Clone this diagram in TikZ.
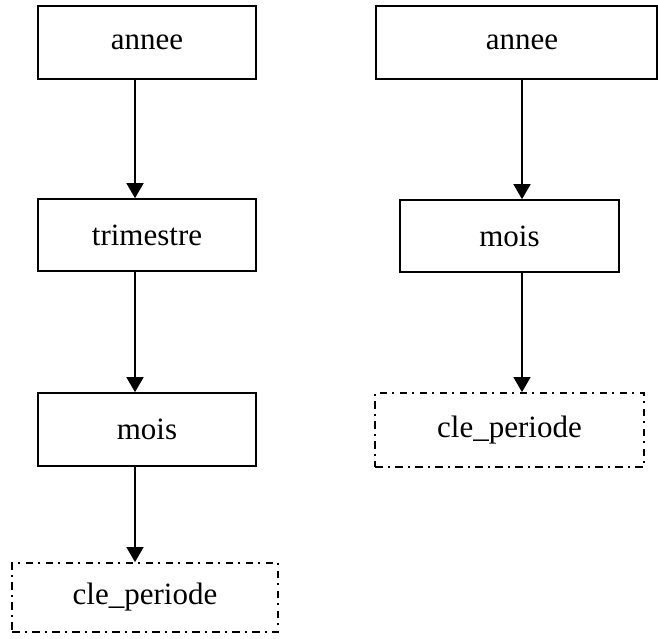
\documentclass[tikz,border=0pt]{standalone}
\usepackage{fontspec}
\setmainfont{Liberation Serif}
\usetikzlibrary{arrows.meta}
\begin{document}
\begin{tikzpicture}[x=1pt,y=-1pt,
  level/.style={draw, line width=1.7pt, inner sep=0pt, font=\fontsize{31}{36}\selectfont},
  keybox/.style={level, line width=1.9pt, dash pattern=on 7.5pt off 5.25pt on 2pt off 5.25pt},
  link/.style={line width=1.7pt, -{Triangle[width=17pt,length=15pt]}}]
  \useasboundingbox (0,0) rectangle (658,638);

  % left hierarchy: annee > trimestre > mois > cle_periode
  \node[level, minimum width=218pt, minimum height=73pt] (la) at (147,42.5) {annee};
  \node[level, minimum width=218pt, minimum height=72pt] (lt) at (147,235) {trimestre};
  \node[level, minimum width=218pt, minimum height=73pt] (lm) at (147,429.5) {mois};
  \node[keybox, minimum width=266pt, minimum height=69pt] (lk) at (145,597.5) {cle\_periode};
  \coordinate (lx) at (135,0);

  % right hierarchy: annee > mois > cle_periode
  \node[level, minimum width=281pt, minimum height=73pt] (ra) at (516.5,42.5) {\hspace*{11pt}annee};
  \node[level, minimum width=219pt, minimum height=72pt] (rm) at (509.5,236) {mois};
  \node[keybox, minimum width=269pt, minimum height=74pt] (rk) at (509.5,430) {cle\_periode};
  \coordinate (rx) at (522,0);

  \draw[link] (la.south -| lx) -- (lt.north -| lx);
  \draw[link] (lt.south -| lx) -- (lm.north -| lx);
  \draw[link] (lm.south -| lx) -- (lk.north -| lx);

  \draw[link] (ra.south -| rx) -- (rm.north -| rx);
  \draw[link] (rm.south -| rx) -- (rk.north -| rx);
\end{tikzpicture}
\end{document}
